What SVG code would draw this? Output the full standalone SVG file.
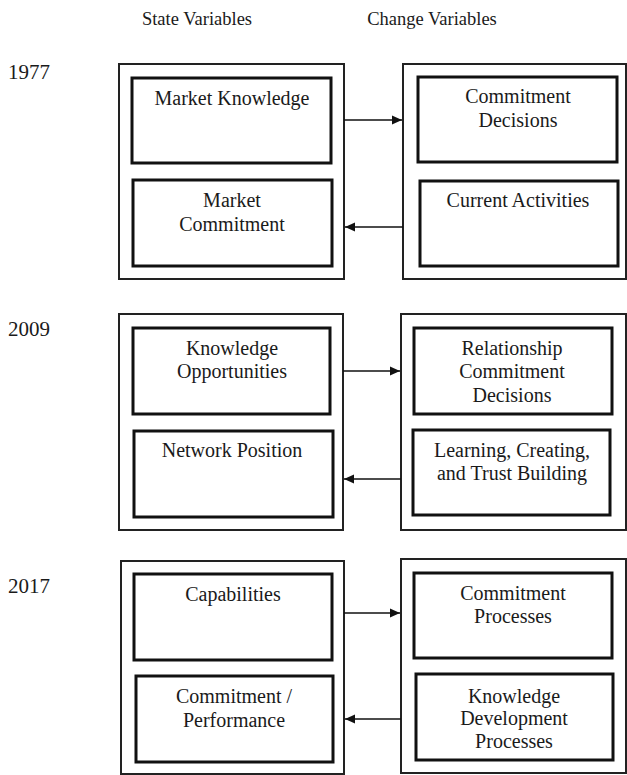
<svg xmlns="http://www.w3.org/2000/svg" width="627" height="775" viewBox="0 0 627 775">
  <style>
    text { font-family: "Liberation Serif", "Times New Roman", serif; font-size: 20px; fill: #1a1a1a; text-anchor: middle; }
    .hdr { font-size: 18.5px; }
    .year { font-size: 21px; text-anchor: start; }
    .outer { fill: none; stroke: #222; stroke-width: 2; }
    .inner { fill: #fff; stroke: #111; stroke-width: 3; }
    .conn { stroke: #111; stroke-width: 1.6; fill: none; }
  </style>
  <defs>
    <marker id="arrow" viewBox="0 0 10 10" refX="10" refY="5" markerWidth="10" markerHeight="10" markerUnits="userSpaceOnUse" orient="auto">
      <path d="M0,0.5 L10,5 L0,9.5 z" fill="#111"/>
    </marker>
  </defs>
  <rect width="627" height="775" fill="#fff"/>

  <!-- column headings -->
  <g id="headings">
    <text class="hdr" x="197" y="25">State Variables</text>
    <text class="hdr" x="432" y="25">Change Variables</text>
  </g>

  <!-- year labels -->
  <g id="years">
    <text class="year" x="8" y="79">1977</text>
    <text class="year" x="8" y="336">2009</text>
    <text class="year" x="8" y="593">2017</text>
  </g>

  <!-- 1977 -->
  <g id="state-1977">
    <rect class="outer" x="119" y="64" width="225" height="215"/>
    <g id="market-knowledge">
      <rect class="inner" x="132" y="78" width="199" height="85"/>
      <text x="232" y="105">Market Knowledge</text>
    </g>
    <g id="market-commitment">
      <rect class="inner" x="133" y="180" width="199" height="86"/>
      <text x="232" y="207">Market</text>
      <text x="232" y="231">Commitment</text>
    </g>
  </g>
  <g id="change-1977">
    <rect class="outer" x="403" y="64" width="223" height="215"/>
    <g id="commitment-decisions">
      <rect class="inner" x="418" y="77" width="199" height="85"/>
      <text x="518" y="103">Commitment</text>
      <text x="518" y="127">Decisions</text>
    </g>
    <g id="current-activities">
      <rect class="inner" x="420" y="181" width="198" height="85"/>
      <text x="518" y="207">Current Activities</text>
    </g>
  </g>

  <!-- 2009 -->
  <g id="state-2009">
    <rect class="outer" x="119" y="314" width="224" height="216"/>
    <g id="knowledge-opportunities">
      <rect class="inner" x="133" y="328" width="197" height="86"/>
      <text x="232" y="355">Knowledge</text>
      <text x="232" y="378">Opportunities</text>
    </g>
    <g id="network-position">
      <rect class="inner" x="134" y="431" width="199" height="86"/>
      <text x="232" y="457">Network Position</text>
    </g>
  </g>
  <g id="change-2009">
    <rect class="outer" x="401" y="314" width="225" height="216"/>
    <g id="relationship-commitment-decisions">
      <rect class="inner" x="414" y="328" width="198" height="86"/>
      <text x="512" y="355">Relationship</text>
      <text x="512" y="378">Commitment</text>
      <text x="512" y="402">Decisions</text>
    </g>
    <g id="learning-creating-trust">
      <rect class="inner" x="413" y="430" width="197" height="85"/>
      <text x="512" y="457">Learning, Creating,</text>
      <text x="512" y="480">and Trust Building</text>
    </g>
  </g>

  <!-- 2017 -->
  <g id="state-2017">
    <rect class="outer" x="121" y="561" width="223" height="213"/>
    <g id="capabilities">
      <rect class="inner" x="134" y="574" width="198" height="86"/>
      <text x="233" y="601">Capabilities</text>
    </g>
    <g id="commitment-performance">
      <rect class="inner" x="136" y="676" width="197" height="86"/>
      <text x="234" y="703">Commitment /</text>
      <text x="234" y="727">Performance</text>
    </g>
  </g>
  <g id="change-2017">
    <rect class="outer" x="401" y="559" width="225" height="214"/>
    <g id="commitment-processes">
      <rect class="inner" x="414" y="573" width="198" height="85"/>
      <text x="513" y="600">Commitment</text>
      <text x="513" y="623">Processes</text>
    </g>
    <g id="knowledge-development-processes">
      <rect class="inner" x="416" y="674" width="197" height="86"/>
      <text x="514" y="703">Knowledge</text>
      <text x="514" y="725">Development</text>
      <text x="514" y="748">Processes</text>
    </g>
  </g>

  <!-- connectors between state and change columns -->
  <g id="connectors">
    <line class="conn" x1="344" y1="120" x2="402" y2="120" marker-end="url(#arrow)"/>
    <line class="conn" x1="403" y1="227" x2="345" y2="227" marker-end="url(#arrow)"/>
    <line class="conn" x1="343" y1="371" x2="400" y2="371" marker-end="url(#arrow)"/>
    <line class="conn" x1="401" y1="479" x2="344" y2="479" marker-end="url(#arrow)"/>
    <line class="conn" x1="344" y1="613" x2="400" y2="613" marker-end="url(#arrow)"/>
    <line class="conn" x1="401" y1="719" x2="345" y2="719" marker-end="url(#arrow)"/>
  </g>
</svg>
